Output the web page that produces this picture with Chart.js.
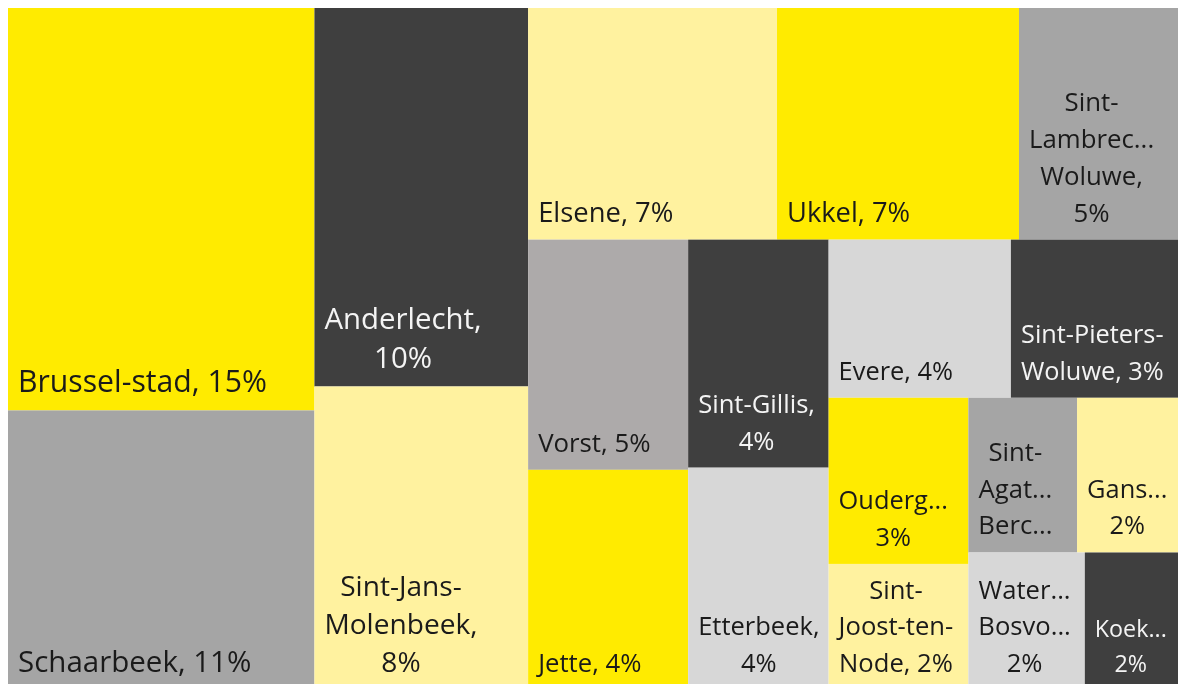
<!DOCTYPE html>
<html>
<head>
<meta charset="utf-8">
<title>Inwoners per gemeente</title>
<script src="https://cdn.jsdelivr.net/npm/chart.js@4.4.1/dist/chart.umd.min.js"></script>
<style>
    html, body { margin: 0; padding: 0; background: #fff; overflow: hidden; }
    #wrap { width: 1178px; height: 690px; position: relative; }
</style>
</head>
<body>
<div id="wrap"><canvas id="treemap"></canvas></div>
<script>
// gemeenten, grootste eerst (zoals in de treemap)
const gemeenten = [
    'Brussel-stad', 'Schaarbeek', 'Anderlecht', 'Sint-Jans-Molenbeek',
    'Elsene', 'Ukkel', 'Sint-Lambrechts-Woluwe',
    'Vorst', 'Jette', 'Sint-Gillis', 'Etterbeek',
    'Evere', 'Sint-Pieters-Woluwe',
    'Oudergem', 'Sint-Joost-ten-Node',
    'Sint-Agatha-Berchem', 'Ganshoren',
    'Watermaal-Bosvoorde', 'Koekelberg'
];
const aandeel = [15.4, 10.7, 10.1, 8.1, 7.2, 7.0, 4.6, 4.6, 4.4, 4.0, 3.9, 3.6, 3.3, 2.9, 2.2, 2.1, 1.95, 2.0, 1.6];

// stroken van de treemap: richting + aantal tegels
const strips = [['col', 2], ['col', 2], ['row', 3], ['col', 2], ['col', 2], ['row', 2], ['col', 2], ['row', 2], ['row', 2]];

const YELLOW = '#FFEB00', DARK = '#3F3F3F', LIGHTY = '#FFF29F', GRAY = '#A5A5A5', WARM = '#ADAAAA', LIGHTG = '#D7D7D7';
const tileColors = [
    YELLOW, GRAY, DARK, LIGHTY,
    LIGHTY, YELLOW, GRAY,
    WARM, YELLOW, DARK, LIGHTG,
    LIGHTG, DARK,
    YELLOW, LIGHTY,
    GRAY, LIGHTY,
    LIGHTG, DARK
];

const FAMILY = "'Open Sans', 'Noto Sans', sans-serif";
const PAD_X = 10;
const BASE_OFF = 18;
// lettergrootte volgens tegelgrootte (wortel van de oppervlakte)
const FONT_STEPS = [[114, 23.3], [122, 25.0], [127, 25.7], [135, 25.6], [160, 25.3], [195, 25.8], [240, 27.4], [285, 29.4], [330, 30.2]];

function fontSizeFor(w, h) {
    const s = Math.sqrt(w * h);
    if (s <= FONT_STEPS[0][0]) return FONT_STEPS[0][1];
    for (let k = 1; k < FONT_STEPS.length; k++) {
        const [s1, f1] = FONT_STEPS[k];
        if (s <= s1) {
            const [s0, f0] = FONT_STEPS[k - 1];
            return f0 + (f1 - f0) * (s - s0) / (s1 - s0);
        }
    }
    return FONT_STEPS[FONT_STEPS.length - 1][1];
}

// verdeel het eenheidsvierkant volgens de stroken
function layout(values) {
    let rect = { x0: 0, y0: 0, x1: 1, y1: 1 };
    let rest = values.reduce((a, b) => a + b, 0);
    const out = [];
    let i = 0;
    strips.forEach(([dir, n]) => {
        const group = values.slice(i, i + n);
        const sum = group.reduce((a, b) => a + b, 0);
        const share = sum / rest;
        if (dir === 'col') {
            const xEnd = rect.x0 + (rect.x1 - rect.x0) * share;
            let y = rect.y0;
            group.forEach(v => {
                const h = (rect.y1 - rect.y0) * v / sum;
                out.push({ x0: rect.x0, x1: xEnd, y0: y, y1: y + h });
                y += h;
            });
            rect = { x0: xEnd, y0: rect.y0, x1: rect.x1, y1: rect.y1 };
        } else {
            const yEnd = rect.y0 + (rect.y1 - rect.y0) * share;
            let x = rect.x0;
            group.forEach(v => {
                const w = (rect.x1 - rect.x0) * v / sum;
                out.push({ x0: x, x1: x + w, y0: rect.y0, y1: yEnd });
                x += w;
            });
            rect = { x0: rect.x0, y0: yEnd, x1: rect.x1, y1: rect.y1 };
        }
        rest -= sum;
        i += n;
    });
    return out;
}

function tokenize(text) {
    const out = [];
    text.split(' ').forEach((word, wi) => {
        const parts = word.match(/[^-]+-?|-/g) || [word];
        parts.forEach((p, pi) => out.push({ t: p, sp: wi > 0 && pi === 0 }));
    });
    return out;
}

function joinTokens(toks) {
    return toks.map((tk, k) => (k > 0 && tk.sp ? ' ' : '') + tk.t).join('');
}

// een komma op het einde mag over de rand hangen
function fits(ctx, s, maxW) {
    return ctx.measureText(s.replace(/,$/, '')).width <= maxW;
}

function fitText(ctx, s, maxW) {
    if (fits(ctx, s, maxW)) return s;
    while (s.length > 1 && ctx.measureText(s + '...').width > maxW) s = s.slice(0, -1);
    return s.trimEnd() + '...';
}

function wrapLabel(ctx, text, maxW, maxLines) {
    const toks = tokenize(text);
    const lines = [];
    let cur = [];
    toks.forEach(tk => {
        const cand = cur.concat([tk]);
        if (cur.length === 0 || fits(ctx, joinTokens(cand), maxW)) {
            cur = cand;
        } else {
            lines.push(cur);
            cur = [tk];
        }
    });
    if (cur.length) lines.push(cur);
    let kept = lines;
    if (lines.length > maxLines) {
        kept = lines.slice(0, maxLines - 1);
        kept.push([].concat(...lines.slice(maxLines - 1)));
    }
    return kept.map(l => fitText(ctx, joinTokens(l), maxW));
}

const treemapPlugin = {
    id: 'treemapTiles',
    afterDatasetsDraw(chart) {
        const ctx = chart.ctx;
        const xs = chart.scales.x, ys = chart.scales.y;
        const total = aandeel.reduce((a, b) => a + b, 0);
        const boxes = layout(aandeel).map(r => {
            const left = xs.getPixelForValue(r.x0), right = xs.getPixelForValue(r.x1);
            const top = ys.getPixelForValue(r.y0), bottom = ys.getPixelForValue(r.y1);
            return { left, top, right, bottom, w: right - left, h: bottom - top };
        });
        ctx.save();
        boxes.forEach((b, i) => {
            ctx.fillStyle = tileColors[i];
            ctx.fillRect(b.left, b.top, b.w, b.h);
        });
        ctx.textBaseline = 'alphabetic';
        ctx.textAlign = 'left';
        boxes.forEach((b, i) => {
            const size = fontSizeFor(b.w, b.h);
            const lineH = 20 + 0.65 * size;
            ctx.font = size.toFixed(1) + 'px ' + FAMILY;
            const label = gemeenten[i] + ', ' + Math.round(aandeel[i] / total * 100) + '%';
            const maxLines = Math.max(1, Math.floor((b.h - 16) / lineH));
            const lines = wrapLabel(ctx, label, b.w - 2 * PAD_X, maxLines);
            const widths = lines.map(l => ctx.measureText(l).width);
            const blockW = Math.max(...widths);
            ctx.fillStyle = tileColors[i] === DARK ? '#F4F4F4' : '#1A1A1A';
            lines.forEach((l, k) => {
                const yBase = b.bottom - BASE_OFF - (lines.length - 1 - k) * lineH;
                ctx.fillText(l, b.left + PAD_X + (blockW - widths[k]) / 2, yBase);
            });
        });
        ctx.restore();
    }
};

new Chart(document.getElementById('treemap'), {
    type: 'scatter',
    data: { datasets: [{ data: [] }] },
    options: {
        responsive: true,
        maintainAspectRatio: false,
        animation: false,
        layout: { padding: { left: 8, top: 8, right: 0, bottom: 0 } },
        scales: {
            x: { type: 'linear', min: 0, max: 1, display: false },
            y: { type: 'linear', min: 0, max: 1, reverse: true, display: false }
        },
        plugins: { legend: { display: false }, tooltip: { enabled: false } }
    },
    plugins: [treemapPlugin]
});
</script>
</body>
</html>
